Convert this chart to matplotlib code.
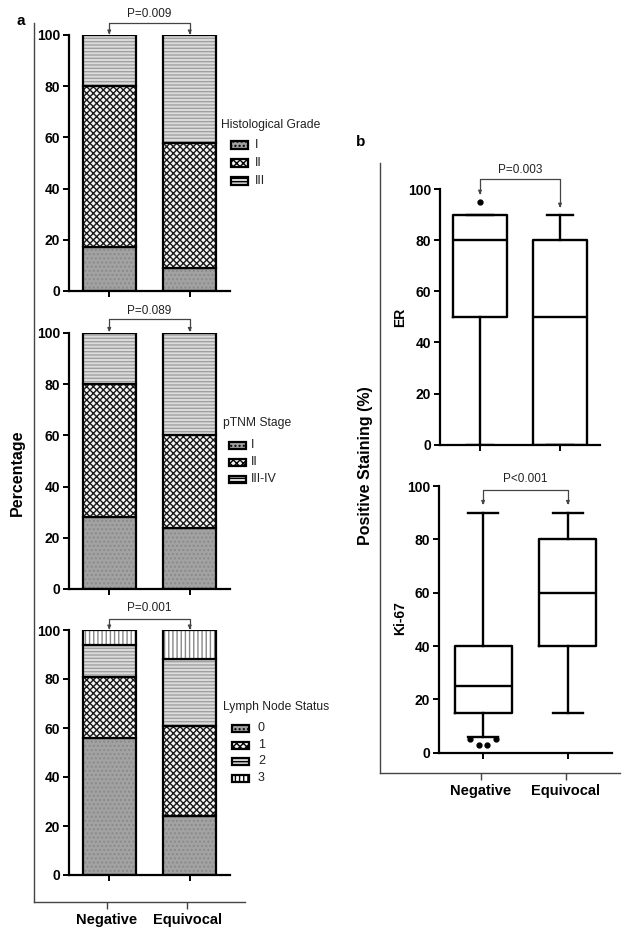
import matplotlib.pyplot as plt
from matplotlib.patches import Rectangle

plt.rcParams['font.family'] = ['Liberation Sans', 'DejaVu Sans']
plt.rcParams['hatch.linewidth'] = 1.0

W, H = 631, 939

groups = ["Negative", "Equivocal"]

# panel a: stacked percentages (bottom -> top)
grade_labels = ["I", "II", "III"]
grade_neg = [17, 63, 20]
grade_equ = [9, 49, 42]

stage_labels = ["I", "II", "III-IV"]
stage_neg = [28, 52, 20]
stage_equ = [24, 36, 40]

node_labels = ["0", "1", "2", "3"]
node_neg = [56, 25, 13, 6]
node_equ = [24, 37, 27, 12]

# panel b: box stats (whislo, q1, med, q3, whishi, outliers)
er_neg = [0, 50, 80, 90, 90, [95]]
er_equ = [0, 0, 50, 80, 90, []]
ki_neg = [6, 15, 25, 40, 90, [5, 5, 3, 3]]
ki_equ = [15, 40, 60, 80, 90, []]

# fill styles per stack level: (face, hatch, hatch colour)
styles = [
    ("#a2a2a2", "....", "#8a8a8a"),
    ("#f4f4f4", "xxxxx", "#1a1a1a"),
    ("#dcdcdc", "-----", "#a0a0a0"),
    ("white", "||||", "#888888"),
]


def fx(px):
    return px / W


def fy(py):
    return 1 - py / H


fig = plt.figure(figsize=(W / 100, H / 100), dpi=100)


def axes_px(x0, x1, ytop, ybot):
    return fig.add_axes([fx(x0), fy(ybot), (x1 - x0) / W, (ybot - ytop) / H])


def style_ax(ax):
    for s in ["top", "right"]:
        ax.spines[s].set_visible(False)
    for s in ["left", "bottom"]:
        ax.spines[s].set_linewidth(1.6)
    ax.tick_params(width=1.4, length=4, labelsize=10, pad=2.5)
    for t in ax.get_yticklabels():
        t.set_fontweight("bold")


def bracket(ax, y, y0, y1, ty, text):
    ax.plot([0, 0, 1, 1], [y0, y, y, y1], color="#444444", lw=0.9, clip_on=False)
    for xx, yy in [(0, y0), (1, y1)]:
        ax.annotate("", xy=(xx, yy - 0.5), xytext=(xx, yy + 1.5),
                    arrowprops=dict(arrowstyle="-|>", color="#444444", lw=0.9,
                                    mutation_scale=5), annotation_clip=False)
    ax.text(0.5, ty, text, ha="center", va="center", fontsize=8.5, color="#222222")


def stacked(ax, neg, equ):
    width = 0.66
    bottoms = [0, 0]
    for i in range(len(neg)):
        vals = [neg[i], equ[i]]
        face, hatch, hc = styles[i]
        ax.bar([0, 1], vals, width, bottom=bottoms, color=face, hatch=hatch,
               edgecolor=hc, linewidth=0)
        ax.bar([0, 1], vals, width, bottom=bottoms, fill=False,
               edgecolor="black", linewidth=1.6)
        bottoms = [bottoms[0] + vals[0], bottoms[1] + vals[1]]
    ax.set_xlim(-0.5, 1.5)
    ax.set_ylim(0, 100)
    ax.set_yticks([0, 20, 40, 60, 80, 100])
    ax.set_xticks([0, 1])
    ax.set_xticklabels([])
    style_ax(ax)


def legend(title, labels, tx, ty, ys, px0, px1, lx):
    fig.text(fx(tx), fy(ty), title, ha="left", va="center", fontsize=8.7,
             color="#222222")
    for i, lab in enumerate(labels):
        face, hatch, hc = styles[i]
        r = Rectangle((fx(px0), fy(ys[i] + 3.5)), (px1 - px0) / W, 7 / H,
                      transform=fig.transFigure, facecolor=face, hatch=hatch,
                      edgecolor="black", linewidth=1.6)
        fig.add_artist(r)
        fig.text(fx(lx), fy(ys[i]), lab, ha="left", va="center", fontsize=9,
                 color="#222222")


# ---- panel a ----
a1 = axes_px(69, 230, 35, 291)
stacked(a1, grade_neg, grade_equ)
bracket(a1, 104.6, 100.8, 100.8, 108.2, "P=0.009")
legend("Histological Grade", grade_labels, 221, 125, [145, 163, 181], 231, 248, 255)

a2 = axes_px(69, 230, 333, 589)
stacked(a2, stage_neg, stage_equ)
bracket(a2, 105.5, 101, 101, 108.6, "P=0.089")
legend("pTNM Stage", stage_labels, 223, 423, [445, 462, 479], 229, 246, 251)

a3 = axes_px(69, 230, 630, 875)
stacked(a3, node_neg, node_equ)
bracket(a3, 104.4, 100.8, 100.8, 108.8, "P=0.001")
legend("Lymph Node Status", node_labels, 223, 707, [728, 745, 761, 778], 232, 249, 258)

# outer frame a
oa = axes_px(34, 245, 23, 902)
oa.patch.set_visible(False)
oa.set_xlim(-0.9125, 1.725)
oa.set_ylim(0, 1)
oa.set_yticks([])
oa.set_xticks([0, 1])
oa.set_xticklabels(groups, fontsize=10.5, fontweight="bold")
for s in ["top", "right"]:
    oa.spines[s].set_visible(False)
for s in ["left", "bottom"]:
    oa.spines[s].set_linewidth(1.0)
    oa.spines[s].set_color("#444444")
oa.tick_params(axis="x", width=1.0, length=5, pad=3, colors="#444444",
               labelcolor="black")
fig.text(fx(17), fy(473), "Percentage", rotation=90, ha="center", va="center",
         fontsize=11.5, fontweight="bold")
fig.text(fx(21), fy(21), "a", ha="center", va="center", fontsize=11,
         fontweight="bold")


# ---- panel b ----
def boxes(ax, stats_list, width, capw):
    stats = []
    for s in stats_list:
        stats.append(dict(whislo=s[0], q1=s[1], med=s[2], q3=s[3], whishi=s[4],
                          fliers=[]))
    ax.bxp(stats, positions=[0, 1], widths=width, showfliers=False,
           capwidths=capw,
           boxprops=dict(lw=1.7, color="black"),
           medianprops=dict(lw=1.7, color="black"),
           whiskerprops=dict(lw=1.7, color="black"),
           capprops=dict(lw=1.7, color="black"))
    for pos, s in enumerate(stats_list):
        fl = s[5]
        if len(fl) == 0:
            continue
        if len(fl) == 1:
            offs = [0]
        else:
            offs = []
            for k, v in enumerate(fl):
                same = [j for j, w in enumerate(fl) if w == v]
                idx = same.index(k)
                n = len(same)
                span = 0.3 if v == max(fl) else 0.1
                offs.append(-span / 2 + span * idx / max(n - 1, 1))
        ax.plot([pos + o for o in offs], fl, "o", color="black", ms=3.5,
                clip_on=False)
    ax.set_ylim(0, 100)
    ax.set_yticks([0, 20, 40, 60, 80, 100])
    ax.set_xticks([0, 1])
    ax.set_xticklabels([])
    style_ax(ax)


b1 = axes_px(440, 600, 189, 444.7)
boxes(b1, [er_neg, er_equ], 0.68, 0.33)
b1.set_xlim(-0.5, 1.5)
b1.plot([0, 0, 1, 1], [98.4, 104, 104, 93.3], color="#444444", lw=0.9, clip_on=False)
for xx, yy in [(0, 98.4), (1, 93.3)]:
    b1.annotate("", xy=(xx, yy - 0.5), xytext=(xx, yy + 1.5),
                arrowprops=dict(arrowstyle="-|>", color="#444444", lw=0.9,
                                mutation_scale=5), annotation_clip=False)
b1.text(0.5, 107.6, "P=0.003", ha="center", va="center", fontsize=8.5, color="#222222")

b2 = axes_px(439, 612, 486, 752.7)
boxes(b2, [ki_neg, ki_equ], 0.67, 0.36)
b2.set_xlim(-0.52, 1.52)
bracket(b2, 98.5, 93.5, 93.5, 102.7, "P<0.001")

fig.text(fx(400), fy(317), "ER", rotation=90, ha="center", va="center",
         fontsize=10, fontweight="bold")
fig.text(fx(400), fy(618), "Ki-67", rotation=90, ha="center", va="center",
         fontsize=10, fontweight="bold")
fig.text(fx(366), fy(466), "Positive Staining (%)", rotation=90, ha="center",
         va="center", fontsize=11.5, fontweight="bold")
fig.text(fx(361), fy(142), "b", ha="center", va="center", fontsize=11,
         fontweight="bold")

ob = axes_px(380, 620, 163, 773)
ob.patch.set_visible(False)
ob.set_xlim((380 - 481) / 85, (620 - 481) / 85)
ob.set_ylim(0, 1)
ob.set_yticks([])
ob.set_xticks([0, 1])
ob.set_xticklabels(groups, fontsize=10.5, fontweight="bold")
for s in ["top", "right"]:
    ob.spines[s].set_visible(False)
for s in ["left", "bottom"]:
    ob.spines[s].set_linewidth(1.0)
    ob.spines[s].set_color("#444444")
ob.tick_params(axis="x", width=1.0, length=5, pad=3, colors="#444444",
               labelcolor="black")

fig.savefig("out.png", dpi=100)
